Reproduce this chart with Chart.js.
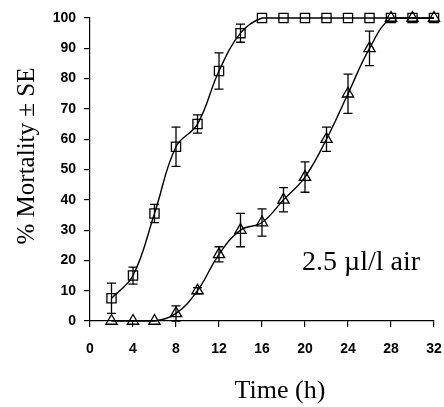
<!DOCTYPE html>
<html>
<head>
<meta charset="utf-8">
<script src="https://cdn.jsdelivr.net/npm/chart.js@4.4.0/dist/chart.umd.min.js"></script>
<style>
html,body{margin:0;padding:0;background:#fff;}
#wrap{width:444px;height:407px;position:relative;}
</style>
</head>
<body>
<div id="wrap"><canvas id="c" width="444" height="407"></canvas></div>
<script>
// Data
const timeHours = [2, 4, 6, 8, 10, 12, 14, 16, 18, 20, 22, 24, 26, 28, 30, 32];
const squareMortality = [7.5, 15, 35.5, 57.5, 65, 82.5, 95, 100, 100, 100, 100, 100, 100, 100, 100, 100];
const squareSE = [5, 2.8, 3, 6.5, 3, 6, 3, 0, 0, 0, 0, 0, 0, 0, 0, 0];
const triangleMortality = [0, 0, 0, 2.5, 10, 22, 30, 32.5, 40, 47.5, 60, 75, 90, 100, 100, 100];
const triangleSE = [0, 0, 0, 2.5, 1, 2.5, 5.5, 4.5, 4, 5, 4, 6.5, 5.7, 0, 0, 0];
const xTicks = [0, 4, 8, 12, 16, 20, 24, 28, 32];
const yTicks = [0, 10, 20, 30, 40, 50, 60, 70, 80, 90, 100];
const yAxisTitle = '% Mortality \u00B1 SE';
const xAxisTitle = 'Time (h)';
const annotationText = '2.5 \u00B5l/l air';

function toPoints(xs, ys) { return xs.map((x, i) => ({x: x, y: ys[i]})); }

const errorBarPlugin = {
  id: 'errorBars',
  afterDatasetsDraw(chart) {
    const ctx = chart.ctx;
    const xs = chart.scales.x, ys = chart.scales.y;
    ctx.save();
    ctx.strokeStyle = '#000';
    ctx.lineWidth = 1.3;
    chart.data.datasets.forEach(ds => {
      const se = ds.se;
      ds.data.forEach((p, i) => {
        const e = se[i];
        if (!e) return;
        const px = xs.getPixelForValue(p.x);
        const top = ys.getPixelForValue(Math.min(100, p.y + e));
        const bot = ys.getPixelForValue(Math.max(0, p.y - e));
        const cw = 4.5;
        ctx.beginPath();
        ctx.moveTo(px, top); ctx.lineTo(px, bot);
        ctx.moveTo(px - cw, top); ctx.lineTo(px + cw, top);
        ctx.moveTo(px - cw, bot); ctx.lineTo(px + cw, bot);
        ctx.stroke();
      });
    });
    ctx.restore();
  }
};

const textPlugin = {
  id: 'texts',
  afterDraw(chart) {
    const ctx = chart.ctx;
    ctx.save();
    ctx.fillStyle = '#000';
    ctx.font = "25px 'Liberation Serif', 'Times New Roman', serif";
    ctx.textAlign = 'center';
    ctx.textBaseline = 'middle';
    ctx.translate(27, 156);
    ctx.rotate(-Math.PI / 2);
    ctx.fillText(yAxisTitle, 0, 0);
    ctx.restore();
    ctx.save();
    ctx.fillStyle = '#000';
    ctx.font = "26px 'Liberation Serif', 'Times New Roman', serif";
    ctx.textAlign = 'center';
    ctx.textBaseline = 'alphabetic';
    ctx.fillText(xAxisTitle, 280, 398);
    ctx.font = "28px 'Liberation Serif', 'Times New Roman', serif";
    ctx.textAlign = 'left';
    ctx.fillText(annotationText, 302, 270);
    ctx.restore();
  }
};

const tickFont = {family: "'Liberation Sans', Arial, sans-serif", size: 14, weight: 'bold'};

new Chart(document.getElementById('c'), {
  type: 'line',
  data: {
    datasets: [
      {
        data: toPoints(timeHours, squareMortality),
        se: squareSE,
        borderColor: '#000',
        borderWidth: 1.4,
        pointStyle: 'rect',
        pointRadius: 6.5,
        pointBorderWidth: 1.3,
        pointBorderColor: '#000',
        pointBackgroundColor: 'rgba(255,255,255,0)',
        tension: 0.4,
        fill: false
      },
      {
        data: toPoints(timeHours, triangleMortality),
        se: triangleSE,
        borderColor: '#000',
        borderWidth: 1.4,
        pointStyle: 'triangle',
        pointRadius: 6.5,
        pointBorderWidth: 1.3,
        pointBorderColor: '#000',
        pointBackgroundColor: 'rgba(255,255,255,0)',
        tension: 0.4,
        fill: false
      }
    ]
  },
  options: {
    responsive: false,
    animation: false,
    events: [],
    clip: false,
    layout: {padding: {left: 0, right: 0, top: 18, bottom: 0}},
    plugins: {legend: {display: false}, tooltip: {enabled: false}, title: {display: false}},
    scales: {
      x: {
        type: 'linear',
        min: 0, max: 32,
        afterBuildTicks(s) { s.ticks = xTicks.map(v => ({value: v})); },
        afterFit(s) { s.height = 86; s.paddingRight = 10; s.paddingLeft = 0; },
        ticks: {font: tickFont, color: '#000', padding: 14, maxRotation: 0},
        grid: {display: true, drawOnChartArea: false, drawTicks: true, tickLength: 6, color: '#000', lineWidth: 1.2},
        border: {display: true, color: '#000', width: 1.2}
      },
      y: {
        type: 'linear',
        min: 0, max: 100,
        afterBuildTicks(s) { s.ticks = yTicks.map(v => ({value: v})); },
        afterFit(s) { s.width = 90; },
        ticks: {font: tickFont, color: '#000', padding: 8},
        grid: {display: true, drawOnChartArea: false, drawTicks: true, tickLength: 6, color: '#000', lineWidth: 1.2},
        border: {display: true, color: '#000', width: 1.2}
      }
    }
  },
  plugins: [errorBarPlugin, textPlugin]
});
</script>
</body>
</html>
